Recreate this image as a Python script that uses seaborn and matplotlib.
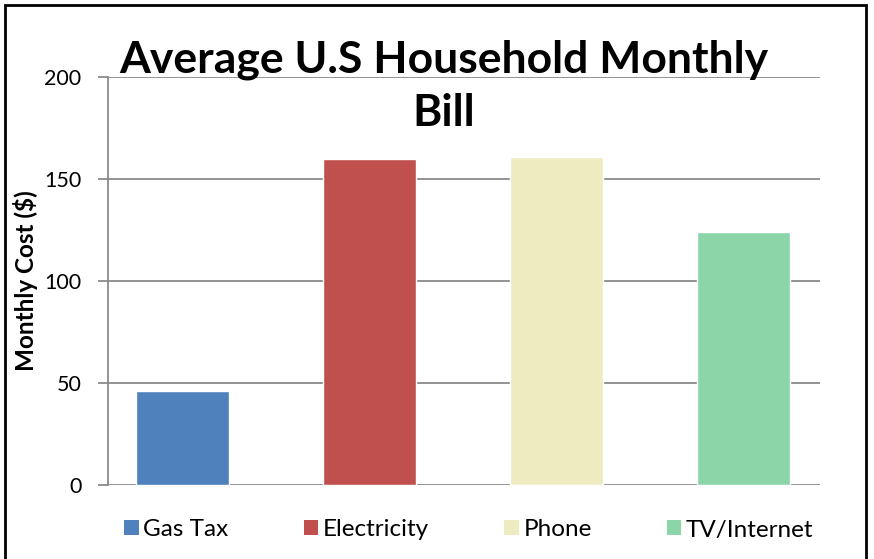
import matplotlib
matplotlib.use("Agg")
import matplotlib.pyplot as plt
from matplotlib.patches import Patch, Rectangle
import seaborn as sns
import pandas as pd

# ── data ─────────────────────────────────────────────
categories = ["Gas Tax", "Electricity", "Phone", "TV/Internet"]
monthly_cost = [46, 160, 161, 124]
colors = ["#4F81BD", "#C0504D", "#EEEBC1", "#8CD5A9"]
y_ticks = [0, 50, 100, 150, 200]

df = pd.DataFrame({"category": categories, "cost": monthly_cost})

sns.set_style("white")
plt.rcParams["font.family"] = ["Lato", "DejaVu Sans"]
plt.rcParams["text.color"] = "black"
plt.rcParams["axes.labelcolor"] = "black"
plt.rcParams["ytick.labelcolor"] = "black"

fig = plt.figure(figsize=(8.74, 5.59), dpi=100)
ax = fig.add_axes([108 / 874, 74 / 559, 712 / 874, 408 / 559])

sns.barplot(data=df, x="category", y="cost", hue="category",
            palette=colors, width=0.5, legend=False, ax=ax, saturation=1)

ax.set_ylim(0, 200)
ax.set_xlim(-0.40, 3.41)
ax.set_yticks(y_ticks)
ax.set_xticks([])
ax.set_xlabel("")
ax.yaxis.grid(True, color="#8A8A8A", lw=1.3)
ax.set_axisbelow(True)
for s in ["top", "right", "bottom"]:
    ax.spines[s].set_visible(False)
ax.spines["left"].set_color("#8A8A8A")
ax.spines["left"].set_linewidth(1.3)
ax.tick_params(axis="y", length=7, width=1.3, color="#8A8A8A",
               labelsize=15.5, pad=12, left=True, labelcolor="black")

ax.set_ylabel("Monthly Cost ($)", fontsize=17.5, fontweight="bold",
              color="black")
ax.yaxis.set_label_coords(-0.098, 0.50)

fig.text(444 / 874, 1 - 40 / 559, "Average U.S Household Monthly\nBill",
         ha="center", va="top", fontsize=32, fontweight="bold",
         linespacing=1.38, color="black")

handles = [Patch(facecolor=c, edgecolor="none") for c in colors]
fig.legend(handles, categories, ncol=4, loc="center",
           bbox_to_anchor=(469 / 874, 1 - 530 / 559), frameon=False,
           fontsize=17.5, handlelength=0.58, handleheight=0.58,
           handletextpad=0.2, columnspacing=3.1, labelcolor="black")

# frame around the chart
fig.patches.append(Rectangle((5 / 874, -0.05), 861 / 874, 1 - 5 / 559 + 0.05,
                             transform=fig.transFigure, fill=False,
                             edgecolor="black", lw=2))

fig.savefig("out.png", dpi=100)
